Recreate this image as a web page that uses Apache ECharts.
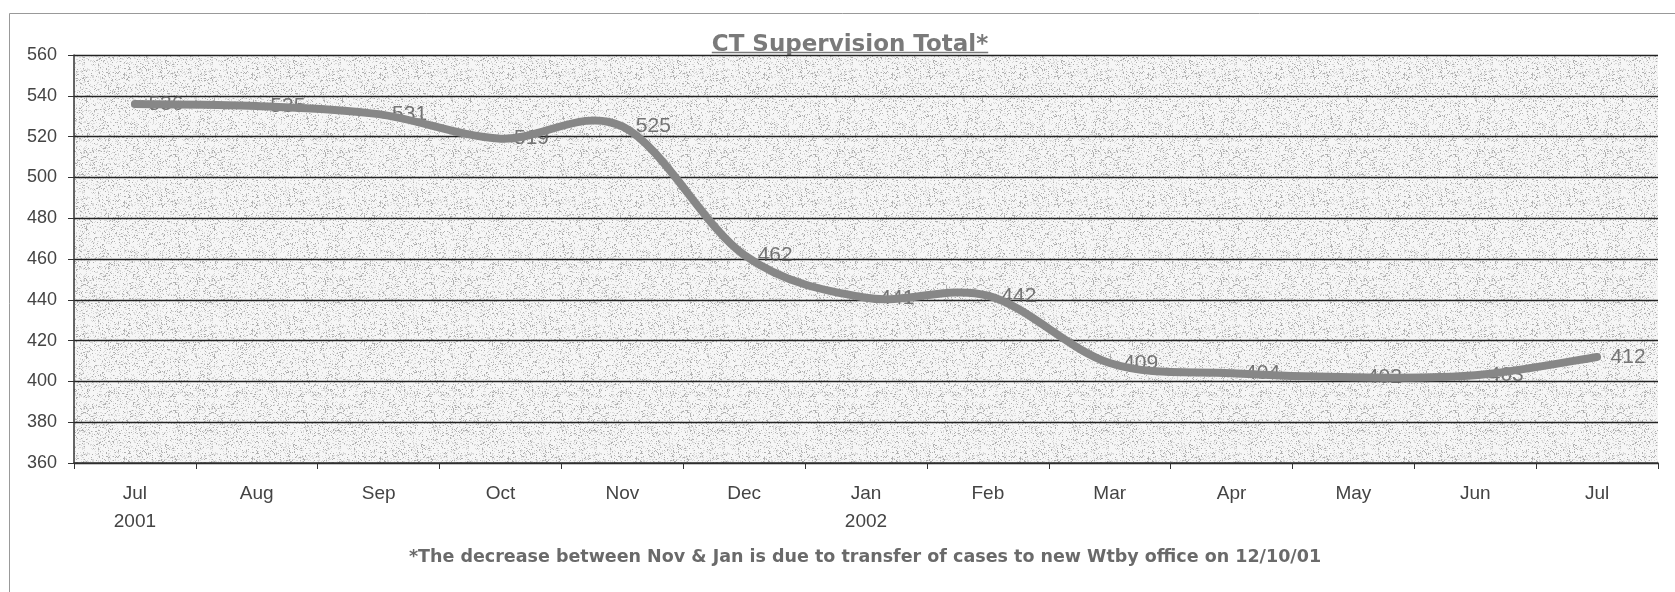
<!DOCTYPE html>
<html>
<head>
<meta charset="utf-8">
<title>CT Supervision Total</title>
<script src="https://cdn.jsdelivr.net/npm/echarts@6/dist/echarts.min.js"></script>
<style>
  html, body { margin: 0; padding: 0; background: #fff; }
  #main { width: 1675px; height: 592px; }
</style>
</head>
<body>
<div id="main"></div>
<script>
// months on the x axis, with the year under the first month of each year
var months = ['Jul', 'Aug', 'Sep', 'Oct', 'Nov', 'Dec', 'Jan', 'Feb', 'Mar', 'Apr', 'May', 'Jun', 'Jul'];
var years = ['2001', '', '', '', '', '', '2002', '', '', '', '', '', ''];
// monthly supervision totals
var totals = [536, 535, 531, 519, 525, 462, 441, 442, 409, 404, 402, 403, 412];
// y axis range
var yMin = 360, yMax = 560, yStep = 20;

var titleText = 'CT Supervision Total*';
var noteText = '*The decrease between Nov & Jan is due to transfer of cases to new Wtby office on 12/10/01';

// light grey stipple like the scanned plot area
function stipple() {
    var c = document.createElement('canvas');
    c.width = 128; c.height = 128;
    var ctx = c.getContext('2d');
    var img = ctx.createImageData(128, 128);
    var s = 12345;
    for (var i = 0; i < 128 * 128; i++) {
        s = (Math.imul(s, 1103515245) + 12345) >>> 0;
        var r = (s >>> 16) % 100;
        var v = r < 9 ? 175 : (r < 26 ? 218 : 246);
        img.data[i * 4] = img.data[i * 4 + 1] = img.data[i * 4 + 2] = v;
        img.data[i * 4 + 3] = 255;
    }
    ctx.putImageData(img, 0, 0);
    return c;
}

function textWidth(str, font) {
    var ctx = document.createElement('canvas').getContext('2d');
    ctx.font = font;
    return ctx.measureText(str).width;
}

var titleFont = 'bold 23px "DejaVu Sans"';
var titleW = textWidth(titleText, titleFont);
var titleX = 850, titleY = 45;

// Excel-style smoothed line (Catmull-Rom through the data points)
function smoothLine(params, api) {
    if (params.dataIndex !== 0) return;
    var pts = totals.map(function (v, i) { return api.coord([i, v]); });
    var n = pts.length;
    var d = 'M' + pts[0][0] + ' ' + pts[0][1];
    for (var i = 0; i < n - 1; i++) {
        var p0 = pts[Math.max(i - 1, 0)], p1 = pts[i], p2 = pts[i + 1], p3 = pts[Math.min(i + 2, n - 1)];
        d += ' C' + (p1[0] + (p2[0] - p0[0]) / 6) + ' ' + (p1[1] + (p2[1] - p0[1]) / 6) +
             ' ' + (p2[0] - (p3[0] - p1[0]) / 6) + ' ' + (p2[1] - (p3[1] - p1[1]) / 6) +
             ' ' + p2[0] + ' ' + p2[1];
    }
    return {
        type: 'path',
        shape: { pathData: d },
        style: { fill: 'none', stroke: '#878787', lineWidth: 8, lineCap: 'round', lineJoin: 'round' }
    };
}

var chart = echarts.init(document.getElementById('main'));
chart.setOption({
    animation: false,
    backgroundColor: '#fff',
    grid: {
        left: 74, right: 17, top: 55, bottom: 129,
        show: true,
        backgroundColor: { image: stipple(), repeat: 'repeat' },
        borderWidth: 0
    },
    xAxis: {
        type: 'category',
        data: months.map(function (m, i) { return years[i] ? m + '\n' + years[i] : m; }),
        boundaryGap: true,
        axisLine: { lineStyle: { color: '#333', width: 1.5 } },
        axisTick: { show: true, interval: 0, length: 6, lineStyle: { color: '#333' } },
        axisLabel: { interval: 0, color: '#444', fontSize: 19, fontFamily: 'Liberation Sans', lineHeight: 28, margin: 17 }
    },
    yAxis: {
        type: 'value',
        min: yMin, max: yMax, interval: yStep,
        axisLine: { show: true, lineStyle: { color: '#333', width: 1.5 } },
        axisTick: { show: true, length: 6, lineStyle: { color: '#333' } },
        axisLabel: { color: '#444', fontSize: 18, fontFamily: 'Liberation Sans', margin: 17 },
        splitLine: { lineStyle: { color: '#222', width: 1.3 } }
    },
    series: [
        {
            // value labels, kept under the line as in the original
            type: 'scatter',
            data: totals,
            symbolSize: 1,
            itemStyle: { color: 'transparent' },
            silent: true,
            z: 1,
            label: {
                show: true, position: 'right', distance: 13,
                color: '#555', fontSize: 21, fontFamily: 'Liberation Sans'
            }
        },
        {
            type: 'custom',
            data: totals.map(function (v, i) { return [i, v]; }),
            encode: { x: 0, y: 1 },
            silent: true,
            z: 3,
            renderItem: smoothLine
        }
    ],
    graphic: [
        {
            type: 'rect', silent: true,
            shape: { x: 9.5, y: 13.5, width: 1700, height: 640 },
            style: { fill: 'none', stroke: '#999', lineWidth: 1 }
        },
        {
            type: 'text', x: titleX, y: titleY, silent: true,
            style: {
                text: titleText, font: titleFont, fill: '#7a7a7a',
                align: 'center', verticalAlign: 'middle'
            }
        },
        {
            type: 'line', silent: true,
            shape: { x1: titleX - titleW / 2, y1: 52.5, x2: titleX + titleW / 2, y2: 52.5 },
            style: { stroke: '#7a7a7a', lineWidth: 1.5 }
        },
        {
            type: 'text', x: 865, y: 557, silent: true,
            style: {
                text: noteText, font: 'bold 17.5px "DejaVu Sans"', fill: '#6a6a6a',
                align: 'center', verticalAlign: 'middle'
            }
        }
    ]
});
</script>
</body>
</html>
